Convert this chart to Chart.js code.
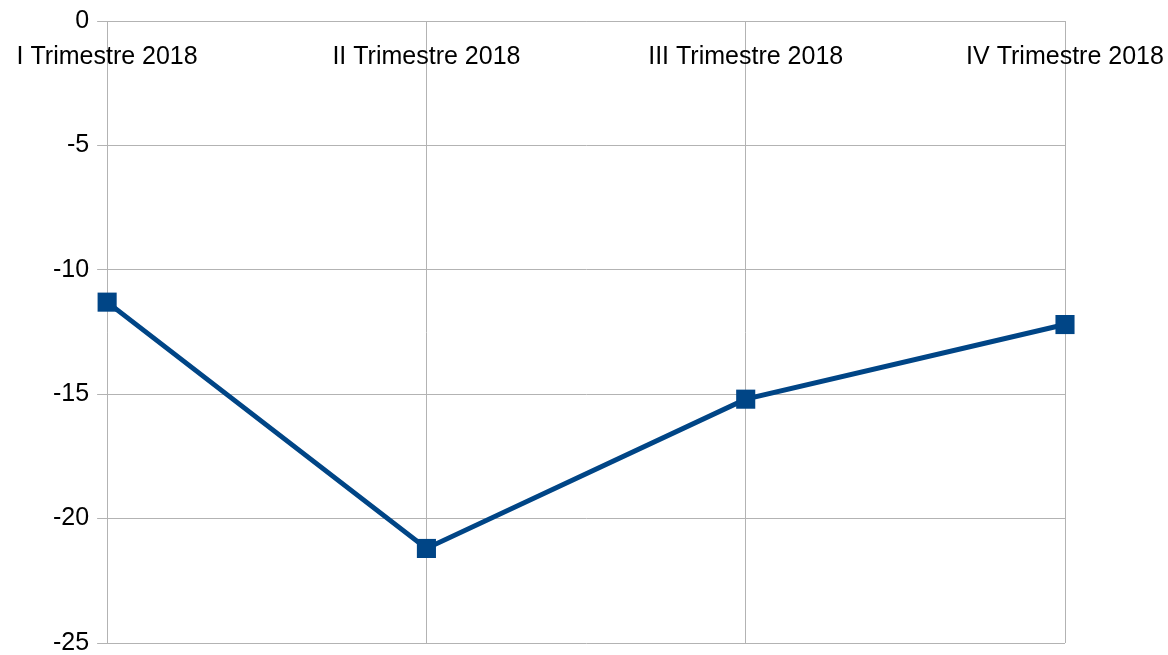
<!DOCTYPE html>
<html>
<head>
<meta charset="utf-8">
<script src="https://cdn.jsdelivr.net/npm/chart.js@4/dist/chart.umd.min.js"></script>
<style>
  html, body { margin: 0; padding: 0; background: #fff; overflow: hidden; }
  canvas { display: block; }
</style>
</head>
<body>
<canvas id="chart" width="1168" height="655"></canvas>
<script>
const categories = ["I Trimestre 2018", "II Trimestre 2018", "III Trimestre 2018", "IV Trimestre 2018"];
const values = [-11.3, -21.2, -15.2, -12.2];
const yTicks = [0, -5, -10, -15, -20, -25];

const FONT = { family: "'Liberation Sans', Arial, sans-serif", size: 25 };

// category labels sit inside the plot, just under the top axis line
const topLabels = {
  id: "topLabels",
  afterDraw(chart) {
    const ctx = chart.ctx;
    const x = chart.scales.x;
    ctx.save();
    ctx.font = FONT.size + "px " + FONT.family;
    ctx.fillStyle = "#000";
    ctx.textAlign = "center";
    ctx.textBaseline = "alphabetic";
    categories.forEach((c, i) => {
      ctx.fillText(c, x.getPixelForValue(i), chart.chartArea.top + 43);
    });
    ctx.restore();
  }
};

new Chart(document.getElementById("chart"), {
  type: "line",
  data: {
    labels: categories,
    datasets: [{
      data: values,
      borderColor: "#004586",
      backgroundColor: "#004586",
      borderWidth: 5,
      pointStyle: "rect",
      pointRadius: 13.5,
      pointHoverRadius: 13.5,
      pointBorderWidth: 0,
      tension: 0,
      clip: false
    }]
  },
  options: {
    responsive: false,
    animation: false,
    layout: { autoPadding: false, padding: { left: 45, right: 103, top: 21, bottom: 12 } },
    plugins: { legend: { display: false }, tooltip: { enabled: false } },
    scales: {
      x: {
        position: "top",
        offset: false,
        grid: { color: "#b3b3b3", drawTicks: false, lineWidth: 1 },
        border: { color: "#b3b3b3" },
        ticks: { display: false }
      },
      y: {
        min: -25,
        max: 0,
        afterBuildTicks: (axis) => { axis.ticks = yTicks.map(v => ({ value: v })); },
        afterFit: (axis) => { axis.paddingTop = 0; axis.paddingBottom = 0; },
        grid: { color: "#b3b3b3", tickLength: 10, lineWidth: 1 },
        border: { color: "#b3b3b3" },
        ticks: {
          color: "#000",
          padding: 8,
          font: { family: FONT.family, size: FONT.size }
        }
      }
    }
  },
  plugins: [topLabels]
});
</script>
</body>
</html>
